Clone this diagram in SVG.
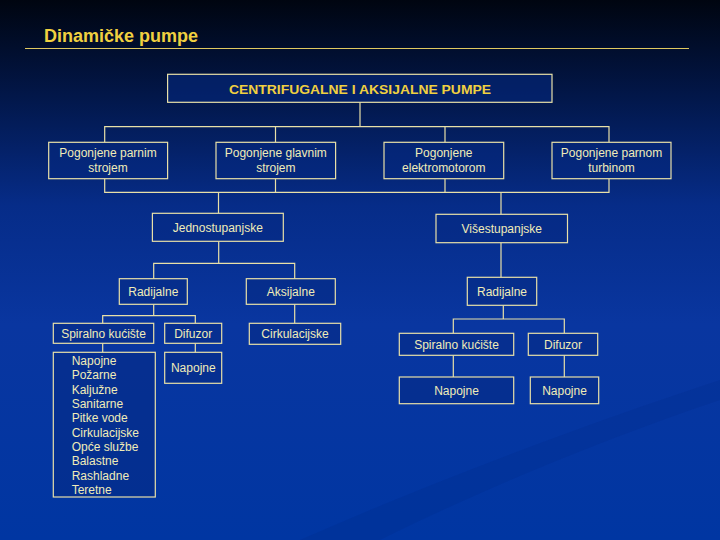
<svg xmlns="http://www.w3.org/2000/svg" width="720" height="540" viewBox="0 0 720 540">
<defs>
<linearGradient id="bg" x1="0" y1="0" x2="0" y2="1">
<stop offset="0" stop-color="#000510"/>
<stop offset="0.18" stop-color="#02174a"/>
<stop offset="0.38" stop-color="#062c88"/>
<stop offset="0.6" stop-color="#0936a0"/>
<stop offset="1" stop-color="#0036a2"/>
</linearGradient>
<style>
.box{fill:#062a84;fill-opacity:0.55;stroke:#e8e0a8;stroke-width:1.2}
.t{font-family:"Liberation Sans",Arial,sans-serif;font-size:12px;fill:#f0ecb8;text-anchor:middle}
.l{font-family:"Liberation Sans",Arial,sans-serif;font-size:12px;fill:#f0ecb8}
.c{fill:none;stroke:#e8e0a8;stroke-width:1.2}
</style>
</defs>
<rect width="720" height="540" fill="url(#bg)"/>
<path d="M300 540 C460 470 600 420 720 380 L720 400 C600 440 470 495 380 540 Z" fill="#00267e" opacity="0.18"/>
<text x="44" y="42" font-family="'Liberation Sans',Arial,sans-serif" font-size="18" font-weight="bold" fill="#f0d040" textLength="154" lengthAdjust="spacingAndGlyphs">Dinamičke pumpe</text>
<line x1="25" y1="48.5" x2="689" y2="48.5" stroke="#e0c860" stroke-width="1"/>
<g id="connectors" class="c">
<path d="M360 102.3V126.7M104.7 142.3V126.7H609V142.3M275.5 126.7V142.3M445 126.7V142.3"/>
<path d="M104.7 178.7V192.3H609V178.7M275.5 178.7V192.3M445 178.7V192.3"/>
<path d="M218.5 192.3V213.3M501 192.3V214.3"/>
<path d="M218.7 241.3V263.3M153.7 278.7V263.3H294.7V278.7"/>
<path d="M153.7 304.3V315.7M102.7 323.3V315.7H195.3V323.3M294.7 304.3V323.3"/>
<path d="M102.7 343.3V352.3M195.3 343.3V352.3"/>
<path d="M501 242.7V277.3M503.3 305.3V319M453.3 333.3V319H564.3V333.3"/>
<path d="M453.3 355.3V377M564.3 355.3V377"/>
</g>
<g id="root"><rect class="box" x="167.6" y="74.3" width="384.4" height="28" fill="#0a2a78"/><text x="360" y="93.5" font-family="'Liberation Sans',Arial,sans-serif" font-size="13" font-weight="bold" fill="#f0d040" text-anchor="middle" textLength="262" lengthAdjust="spacingAndGlyphs">CENTRIFUGALNE I AKSIJALNE PUMPE</text></g>
<g id="n-parnim"><rect class="box" x="48.7" y="142.3" width="118.9" height="36.4"/><text class="t" x="108" y="157">Pogonjene parnim</text><text class="t" x="108" y="172">strojem</text></g>
<g id="n-glavnim"><rect class="box" x="216" y="142.3" width="119.6" height="36.4"/><text class="t" x="275.8" y="157">Pogonjene glavnim</text><text class="t" x="275.8" y="172">strojem</text></g>
<g id="n-elektro"><rect class="box" x="384" y="142.3" width="119.7" height="36.4"/><text class="t" x="443.8" y="157">Pogonjene</text><text class="t" x="443.8" y="172">elektromotorom</text></g>
<g id="n-turbinom"><rect class="box" x="552" y="142.3" width="119" height="36.4"/><text class="t" x="611.5" y="157">Pogonjene parnom</text><text class="t" x="611.5" y="172">turbinom</text></g>
<g id="n-jedno"><rect class="box" x="152.4" y="213.3" width="130.9" height="28"/><text class="t" x="217.8" y="232">Jednostupanjske</text></g>
<g id="n-vise"><rect class="box" x="436" y="214.3" width="131.5" height="28.4"/><text class="t" x="501.8" y="233">Višestupanjske</text></g>
<g id="n-radijalne1"><rect class="box" x="119.3" y="278.7" width="68" height="25.6"/><text class="t" x="153.3" y="296">Radijalne</text></g>
<g id="n-aksijalne"><rect class="box" x="246.3" y="278.7" width="89" height="25.6"/><text class="t" x="290.8" y="296">Aksijalne</text></g>
<g id="n-spiralno1"><rect class="box" x="53.3" y="323.3" width="100.4" height="20"/><text class="t" x="103.5" y="338">Spiralno kućište</text></g>
<g id="n-difuzor1"><rect class="box" x="164.7" y="323.3" width="57" height="20"/><text class="t" x="193.2" y="338">Difuzor</text></g>
<g id="n-cirk"><rect class="box" x="249.3" y="323.3" width="91.4" height="21"/><text class="t" x="295" y="338">Cirkulacijske</text></g>
<g id="n-list"><rect class="box" x="53.3" y="352.3" width="102" height="144.7"/>
<text class="l" x="71.7" y="365">Napojne</text>
<text class="l" x="71.7" y="379.4">Požarne</text>
<text class="l" x="71.7" y="393.6">Kaljužne</text>
<text class="l" x="71.7" y="407.8">Sanitarne</text>
<text class="l" x="71.7" y="422.2">Pitke vode</text>
<text class="l" x="71.7" y="436.8">Cirkulacijske</text>
<text class="l" x="71.7" y="451.2">Opće službe</text>
<text class="l" x="71.7" y="465.2">Balastne</text>
<text class="l" x="71.7" y="479.6">Rashladne</text>
<text class="l" x="71.7" y="493.8">Teretne</text>
</g>
<g id="n-napojne1"><rect class="box" x="164.7" y="352.3" width="57" height="31"/><text class="t" x="193.3" y="371.5">Napojne</text></g>
<g id="n-radijalne2"><rect class="box" x="467.3" y="277.3" width="69.4" height="28"/><text class="t" x="502" y="296">Radijalne</text></g>
<g id="n-spiralno2"><rect class="box" x="399.3" y="333.3" width="114.4" height="22"/><text class="t" x="456.5" y="349">Spiralno kućište</text></g>
<g id="n-difuzor2"><rect class="box" x="528.3" y="333.3" width="69.4" height="22"/><text class="t" x="563" y="349">Difuzor</text></g>
<g id="n-napojne2"><rect class="box" x="399.3" y="377" width="114.4" height="26.7"/><text class="t" x="456.5" y="395">Napojne</text></g>
<g id="n-napojne3"><rect class="box" x="530.3" y="377" width="68.4" height="26.7"/><text class="t" x="564.5" y="395">Napojne</text></g>
</svg>
